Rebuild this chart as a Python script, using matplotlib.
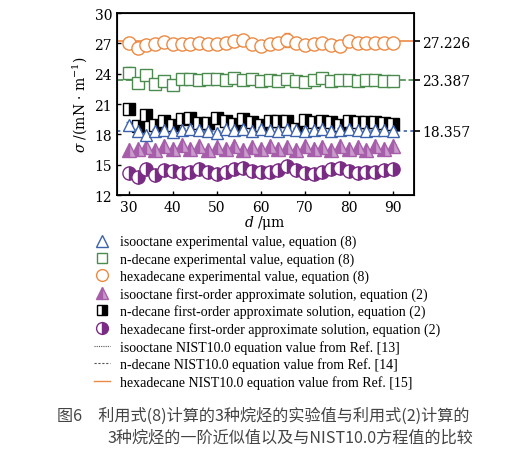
import matplotlib
matplotlib.use("Agg")
import matplotlib.pyplot as plt
from matplotlib.lines import Line2D
import numpy as np

plt.rcParams['font.family'] = ['DejaVu Serif']
plt.rcParams['mathtext.fontset'] = 'dejavuserif'

# diameter d (um)
d = np.arange(30, 91, 2)

# experimental values, equation (8)
iso_exp = [18.9, 18.3, 17.9, 18.3, 18.4, 18.2, 18.4, 18.5, 18.4, 18.3, 18.1,
           18.5, 18.4, 18.5, 18.3, 18.5, 18.4, 18.3, 18.5, 18.4, 18.3, 18.4,
           18.5, 18.3, 18.4, 18.5, 18.4, 18.3, 18.4, 18.4, 18.3]
iso_err = [0.3, 0.2, 0.2, 0.2, 0.2, 0.2, 0.2, 0.2, 0.2, 0.2, 0.2,
           0.2, 0.2, 0.2, 0.2, 0.2, 0.2, 0.2, 0.2, 0.2, 0.2, 0.2,
           0.2, 0.2, 0.2, 0.2, 0.2, 0.2, 0.2, 0.2, 0.2]
dec_exp = [24.1, 23.1, 23.9, 23.0, 23.3, 22.9, 23.5, 23.5, 23.4, 23.5, 23.5,
           23.4, 23.6, 23.4, 23.5, 23.3, 23.4, 23.3, 23.5, 23.3, 23.2, 23.4,
           23.6, 23.3, 23.4, 23.4, 23.3, 23.4, 23.4, 23.3, 23.3]
dec_err = [0.6, 0.3, 0.3, 0.3, 0.3, 0.3, 0.2, 0.2, 0.2, 0.2, 0.2,
           0.2, 0.2, 0.2, 0.2, 0.2, 0.2, 0.2, 0.2, 0.2, 0.2, 0.2,
           0.2, 0.2, 0.2, 0.2, 0.2, 0.2, 0.2, 0.2, 0.2]
hex_exp = [27.0, 26.5, 26.8, 26.9, 27.1, 26.9, 26.9, 26.9, 27.0, 26.9, 26.9,
           27.0, 27.2, 27.3, 26.9, 26.7, 26.9, 27.0, 27.3, 27.0, 26.8, 26.9,
           27.0, 26.8, 26.7, 27.2, 27.0, 27.0, 27.0, 27.0, 27.0]
hex_err = [0.3, 0.5, 0.2, 0.2, 0.3, 0.2, 0.2, 0.2, 0.2, 0.2, 0.2,
           0.2, 0.3, 0.5, 0.2, 0.2, 0.2, 0.2, 0.7, 0.2, 0.2, 0.2,
           0.2, 0.2, 0.3, 0.3, 0.2, 0.2, 0.2, 0.2, 0.2]

# first-order approximate solution, equation (2)
iso_app = [16.5, 16.6, 16.8, 16.5, 16.9, 16.6, 17.0, 16.6, 16.9, 16.5, 16.8,
           16.6, 16.9, 16.5, 16.8, 16.6, 16.9, 16.6, 16.8, 16.5, 16.9, 16.6,
           16.8, 16.5, 16.9, 16.6, 16.8, 16.5, 16.9, 16.6, 16.9]
dec_app = [20.5, 18.8, 19.9, 18.9, 19.3, 18.9, 19.5, 19.6, 19.1, 19.1, 19.6,
           19.3, 19.0, 19.5, 19.2, 18.9, 19.3, 19.3, 19.3, 18.5, 19.4, 19.2,
           19.3, 19.2, 18.9, 19.3, 19.2, 19.2, 19.2, 19.1, 19.0]
hex_app = [14.2, 13.8, 14.6, 14.0, 14.5, 14.4, 14.2, 14.3, 14.6, 14.3, 14.1,
           14.3, 14.6, 14.7, 14.4, 14.3, 14.3, 14.5, 14.9, 14.5, 14.2, 14.1,
           14.3, 14.6, 14.7, 14.4, 14.2, 14.3, 14.3, 14.5, 14.6]

# NIST10.0 equation values
nist_vals = [18.357, 23.387, 27.226]

c_iso = '#3d62ad'
c_dec = '#4b8b4e'
c_hex = '#ec8a44'
c_tri = '#a65eaa'
c_circ = '#7a2c84'

fig = plt.figure(figsize=(5.06, 4.52), dpi=100)
ax = fig.add_axes([0.231, 0.566, 0.587, 0.403])

ms = 9.5
ax.axhline(nist_vals[0], color=c_iso, ls=(0, (2, 2)), lw=1.2, zorder=1)
ax.axhline(nist_vals[1], color=c_dec, ls='--', lw=1.2, zorder=1)
ax.axhline(nist_vals[2], color=c_hex, ls='-', lw=1.2, zorder=1)

ax.plot(d, hex_app, 'o', ms=ms, color=c_circ, mfc=c_circ, mfcalt='white',
        fillstyle='right', mew=1.0, zorder=3)
ax.plot(d, iso_app, '^', ms=ms + 0.5, color=c_tri, mfc=c_tri, mfcalt='#c99bcc',
        fillstyle='left', mew=1.0, zorder=3)
ax.plot(d, dec_app, 's', ms=ms - 0.5, color='black', mfc='black', mfcalt='white',
        fillstyle='right', mew=1.0, zorder=3)
ax.errorbar(d, iso_exp, yerr=iso_err, fmt='^', ms=ms - 0.5, color=c_iso,
            mfc='white', mew=1.0, elinewidth=0.8, capsize=2, zorder=4)
ax.errorbar(d, dec_exp, yerr=dec_err, fmt='s', ms=ms - 1, color=c_dec,
            mfc='white', mew=1.0, elinewidth=0.8, capsize=2, zorder=4)
ax.errorbar(d, hex_exp, yerr=hex_err, fmt='o', ms=ms, color=c_hex,
            mfc='white', mew=1.0, elinewidth=0.8, capsize=2, zorder=4)

ax.set_xlim(27.3, 94.8)
ax.set_ylim(12, 30)
ax.set_xticks([30, 40, 50, 60, 70, 80, 90])
ax.set_yticks([12, 15, 18, 21, 24, 27, 30])
ax.tick_params(direction='in', labelsize=10, width=1.0, length=3)
for s in ax.spines.values():
    s.set_linewidth(1.3)
ax.set_xlabel(r'$d$ /μm', fontsize=10, labelpad=-1)
ax.set_ylabel(r'$\sigma$ /(mN · m$^{-1}$)', fontsize=10, labelpad=4)

ax2 = ax.twinx()
ax2.set_ylim(12, 30)
ax2.set_yticks(nist_vals)
ax2.set_yticklabels(['%.3f' % v for v in nist_vals])
ax2.tick_params(direction='out', labelsize=10, length=4, width=1.2, pad=2)
for t, c in zip(ax2.yaxis.get_ticklines()[1::2], [c_iso, c_dec, c_hex]):
    t.set_color(c)

hs = 8.5
handles = [
    Line2D([], [], ls='none', marker='^', ms=hs, color=c_iso, mfc='white'),
    Line2D([], [], ls='none', marker='s', ms=hs - 1, color=c_dec, mfc='white'),
    Line2D([], [], ls='none', marker='o', ms=hs, color=c_hex, mfc='white'),
    Line2D([], [], ls='none', marker='^', ms=hs, color=c_tri, mfc=c_tri,
           mfcalt='#c99bcc', fillstyle='left'),
    Line2D([], [], ls='none', marker='s', ms=hs - 1, color='black', mfc='black',
           mfcalt='white', fillstyle='right'),
    Line2D([], [], ls='none', marker='o', ms=hs, color=c_circ, mfc=c_circ,
           mfcalt='white', fillstyle='right'),
    Line2D([], [], color='#555555', ls=(0, (1, 1)), lw=0.8),
    Line2D([], [], color='#555555', ls=(0, (2, 1.5)), lw=0.8),
    Line2D([], [], color=c_hex, ls='-', lw=1.0),
]
labels = [
    'isooctane experimental value, equation (8)',
    'n-decane experimental value, equation (8)',
    'hexadecane experimental value, equation (8)',
    'isooctane first-order approximate solution, equation (2)',
    'n-decane first-order approximate solution, equation (2)',
    'hexadecane first-order approximate solution, equation (2)',
    'isooctane NIST10.0 equation value from Ref. [13]',
    'n-decane NIST10.0 equation value from Ref. [14]',
    'hexadecane NIST10.0 equation value from Ref. [15]',
]
fig.legend(handles, labels, loc='upper left', bbox_to_anchor=(0.185, 0.478),
           frameon=False, prop={'family': 'Liberation Serif', 'size': 10},
           handlelength=1.2, handletextpad=0.7, handleheight=0.6,
           labelspacing=0.27, borderaxespad=0, borderpad=0)

cap_font = ['Noto Sans CJK SC', 'DejaVu Sans']
fig.text(0.113, 0.070, '图6　利用式(8)计算的3种烷烃的实验值与利用式(2)计算的',
         fontsize=11.6, color='#444444', family=cap_font)
fig.text(0.213, 0.021, '3种烷烃的一阶近似值以及与NIST10.0方程值的比较',
         fontsize=11.6, color='#444444', family=cap_font)

fig.savefig('out.png', dpi=100)
